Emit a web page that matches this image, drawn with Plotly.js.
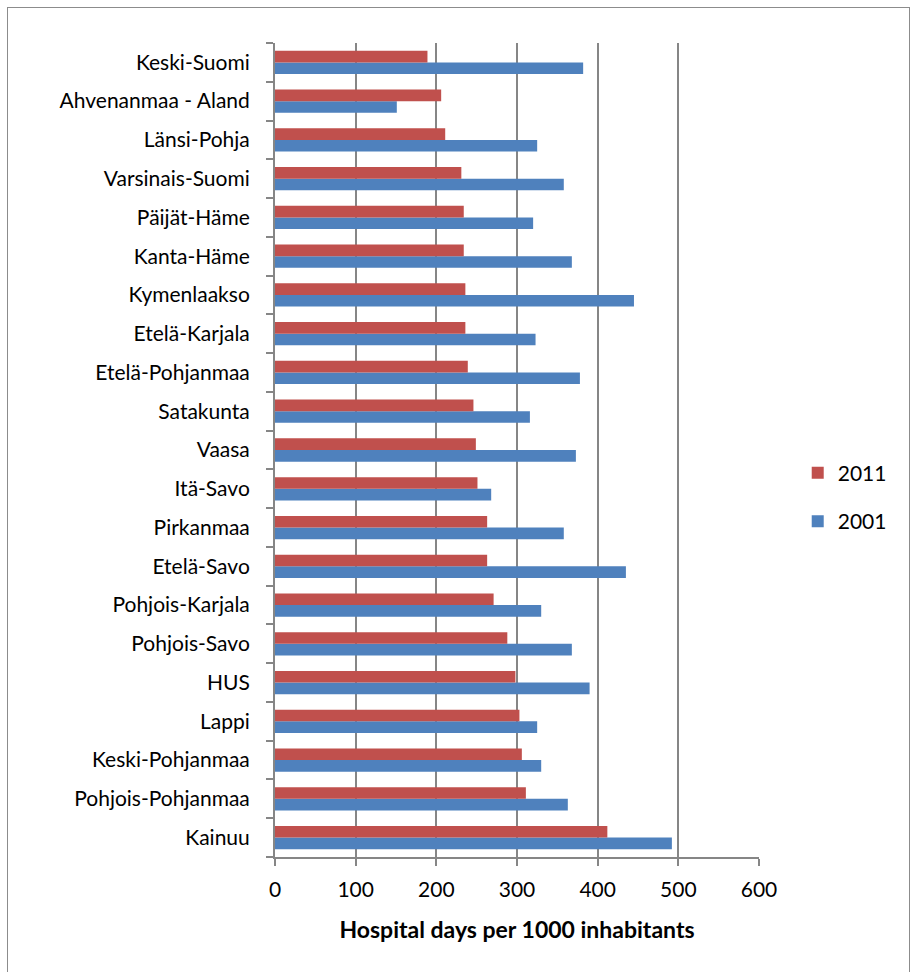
<!DOCTYPE html>
<html>
<head>
<meta charset="utf-8">
<script src="https://cdn.plot.ly/plotly-3.0.1.min.js"></script>
<style>
html,body{margin:0;padding:0;background:#fff;}
#frame{position:absolute;left:7px;top:7px;width:903px;height:975px;border:1px solid #8c8c8c;box-sizing:border-box;}
#chart{position:absolute;left:0;top:0;width:912px;height:972px;}
</style>
</head>
<body>
<div id="frame"></div>
<div id="chart"></div>
<script>
const regions = ["Kainuu","Pohjois-Pohjanmaa","Keski-Pohjanmaa","Lappi","HUS","Pohjois-Savo","Pohjois-Karjala","Etelä-Savo","Pirkanmaa","Itä-Savo","Vaasa","Satakunta","Etelä-Pohjanmaa","Etelä-Karjala","Kymenlaakso","Kanta-Häme","Päijät-Häme","Varsinais-Suomi","Länsi-Pohja","Ahvenanmaa - Aland","Keski-Suomi"];
const values2011 = [412,311,306,303,298,288,271,263,263,251,249,246,239,236,236,234,234,231,211,206,189];
const values2001 = [492,363,330,325,390,368,330,435,358,268,373,316,378,323,445,368,320,358,325,151,382];
const xTicks = [0,100,200,300,400,500,600];

const font = "Lato, 'Open Sans', 'Liberation Sans', sans-serif";
const traces = [
  {type:'bar', orientation:'h', name:'2001', legendgroup:'a', legendrank:2, y:regions, x:values2001, marker:{color:'#4f81bd'}},
  {type:'bar', orientation:'h', name:'2011', legendgroup:'b', legendrank:1, y:regions, x:values2011, marker:{color:'#c0504d'}}
];
const layout = {
  width:912, height:972,
  margin:{l:275, r:153, t:43, b:115},
  paper_bgcolor:'rgba(0,0,0,0)', plot_bgcolor:'#fff',
  barmode:'group', bargap:0.4, bargroupgap:0,
  font:{family:font, size:21, color:'#000'},
  showlegend:true,
  legend:{x:1.08, y:0.442, xanchor:'left', yanchor:'middle', traceorder:'grouped', font:{size:21}, itemwidth:30, tracegroupgap:18},
  xaxis:{range:[0,600], tickvals:xTicks, ticktext:xTicks.map(String), showgrid:true, gridcolor:'#868686', gridwidth:2,
    showline:true, linecolor:'#868686', linewidth:2, ticks:'outside', ticklen:7, tickcolor:'#868686', tickwidth:2,
    zeroline:false, tickfont:{size:21}, ticklabelstandoff:6,
    title:{text:'<b>Hospital days per 1000 inhabitants</b>', font:{size:23}, standoff:22}},
  yaxis:{type:'category', showline:true, linecolor:'#868686', linewidth:2, ticks:'outside', ticklen:7, tickcolor:'#868686', tickwidth:2,
    tickson:'boundaries', showgrid:false, tickfont:{size:21}, ticklabelstandoff:19, range:[-0.5,20.5]}
};
Plotly.newPlot('chart', traces, layout, {displayModeBar:false, staticPlot:true});
</script>
</body>
</html>
